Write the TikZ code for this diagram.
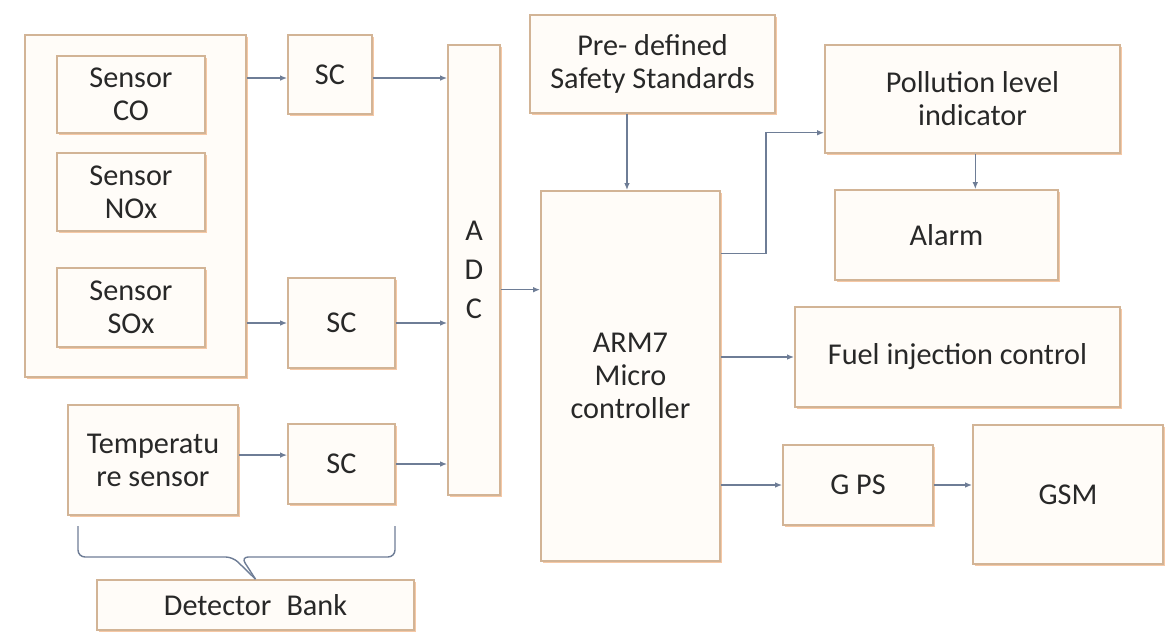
\documentclass[tikz,border=0pt]{standalone}
\usepackage{fontspec}
\setmainfont{Carlito}
\usetikzlibrary{arrows.meta,shadows}
\definecolor{boxline}{RGB}{210,180,150}
\definecolor{boxfill}{RGB}{255,252,248}
\definecolor{boxshade}{RGB}{246,200,165}
\definecolor{wire}{RGB}{110,125,150}
\definecolor{txt}{RGB}{40,40,40}
\begin{document}
\begin{tikzpicture}[x=0.025cm, y=-0.025cm, every node/.style={font=\fontsize{21.5}{23.5}\selectfont, text=txt}]
  \tikzstyle{blk}=[draw=boxline,fill=boxfill,line width=1.2pt,align=center,inner sep=2pt,
    drop shadow={fill=boxshade,shadow xshift=1.2pt,shadow yshift=-1.5pt,opacity=1}]
  \tikzstyle{arr}=[draw=wire,line width=1pt,-{Latex[length=5pt,width=4pt]}]
  \useasboundingbox (0,0) rectangle (1167,633);
  % detector side
  \node[blk,minimum width=5.525cm,minimum height=8.55cm] (grp) at (135.5,206) {};
  \node[blk,minimum width=3.7cm,minimum height=1.925cm] (co) at (131,94.5) {Sensor\\CO};
  \node[blk,minimum width=3.7cm,minimum height=1.95cm] (nox) at (131,192) {Sensor\\NOx};
  \node[blk,minimum width=3.7cm,minimum height=1.975cm] (sox) at (131,307.5) {Sensor\\SOx};
  \node[blk,minimum width=2.1cm,minimum height=1.975cm] (sc1) at (330,74.5) {SC};
  \node[blk,minimum width=2.675cm,minimum height=2.25cm] (sc2) at (341.5,323) {SC};
  \node[blk,minimum width=4.25cm,minimum height=2.75cm] (temp) at (153,460) {Temperatu\\re sensor};
  \node[blk,minimum width=2.675cm,minimum height=2.0cm] (sc3) at (341.5,464) {SC};
  \node[blk,minimum width=1.3cm,minimum height=11.25cm] (adc) at (474,270) {A\\[4pt]D\\[4pt]C};
  \node[blk,minimum width=7.925cm,minimum height=1.25cm] (bank) at (255.5,605) {Detector\enspace Bank};
  % controller side
  \node[blk,minimum width=6.125cm,minimum height=2.45cm] (std) at (652.5,64) {Pre- defined\\Safety Standards};
  \node[blk,minimum width=4.475cm,minimum height=9.25cm] (arm) at (630.5,376) {ARM7\\Micro\\controller};
  \node[blk,minimum width=7.375cm,minimum height=2.7cm] (pol) at (972.5,99) {Pollution level\\indicator};
  \node[blk,minimum width=5.575cm,minimum height=2.25cm] (alarm) at (946.5,235) {Alarm};
  \node[blk,minimum width=8.125cm,minimum height=2.5cm] (fuel) at (957.5,357) {Fuel injection control};
  \node[blk,minimum width=3.75cm,minimum height=2.0cm] (gps) at (858,485) {G PS};
  \node[blk,minimum width=4.75cm,minimum height=3.475cm] (gsm) at (1068,494.5) {GSM};
  % connections
  \draw[arr] ([yshift=-2.5pt]grp.east |- sc1) -- ([yshift=-2.5pt]sc1.west);
  \draw[arr] ([yshift=-2.5pt]sc1.east) -- ([yshift=-2.5pt]sc1.east -| adc.west);
  \draw[arr] (grp.east |- sc2) -- (sc2.west);
  \draw[arr] (sc2.east) -- (sc2.east -| adc.west);
  \draw[arr] ([yshift=3.5pt]temp.east) -- ([yshift=3.5pt]temp.east -| sc3.west);
  \draw[arr] (sc3.east) -- (sc3.east -| adc.west);
  \draw[arr] ([yshift=-14pt]adc.east) -- ([yshift=-14pt]adc.east -| arm.west);
  \draw[arr] ([xshift=-2.5pt]arm.north |- std.south) -- ([xshift=-2.5pt]arm.north);
  \draw[arr] ([yshift=87pt]arm.east) -- ++(32pt,0) |- ([yshift=-24pt]pol.west);
  \draw[arr] ([xshift=2pt]pol.south) -- ([xshift=2pt]pol.south |- alarm.north);
  \draw[arr] (arm.east |- fuel) -- (fuel.west);
  \draw[arr] (arm.east |- gps) -- (gps.west);
  \draw[arr] (gps.east) -- (gps.east -| gsm.west);
  % brace under the bank
  \coordinate (bl) at (78,526);
  \coordinate (br) at (395,526);
  \coordinate (bm) at (237,557);
  \draw[wire,line width=1pt,rounded corners=5pt] (bl) |- ([xshift=-3pt]bm) -- (bank.north);
  \draw[wire,line width=1pt,rounded corners=5pt] (br) |- ([xshift=3pt]bm) -- (bank.north);
\end{tikzpicture}
\end{document}
